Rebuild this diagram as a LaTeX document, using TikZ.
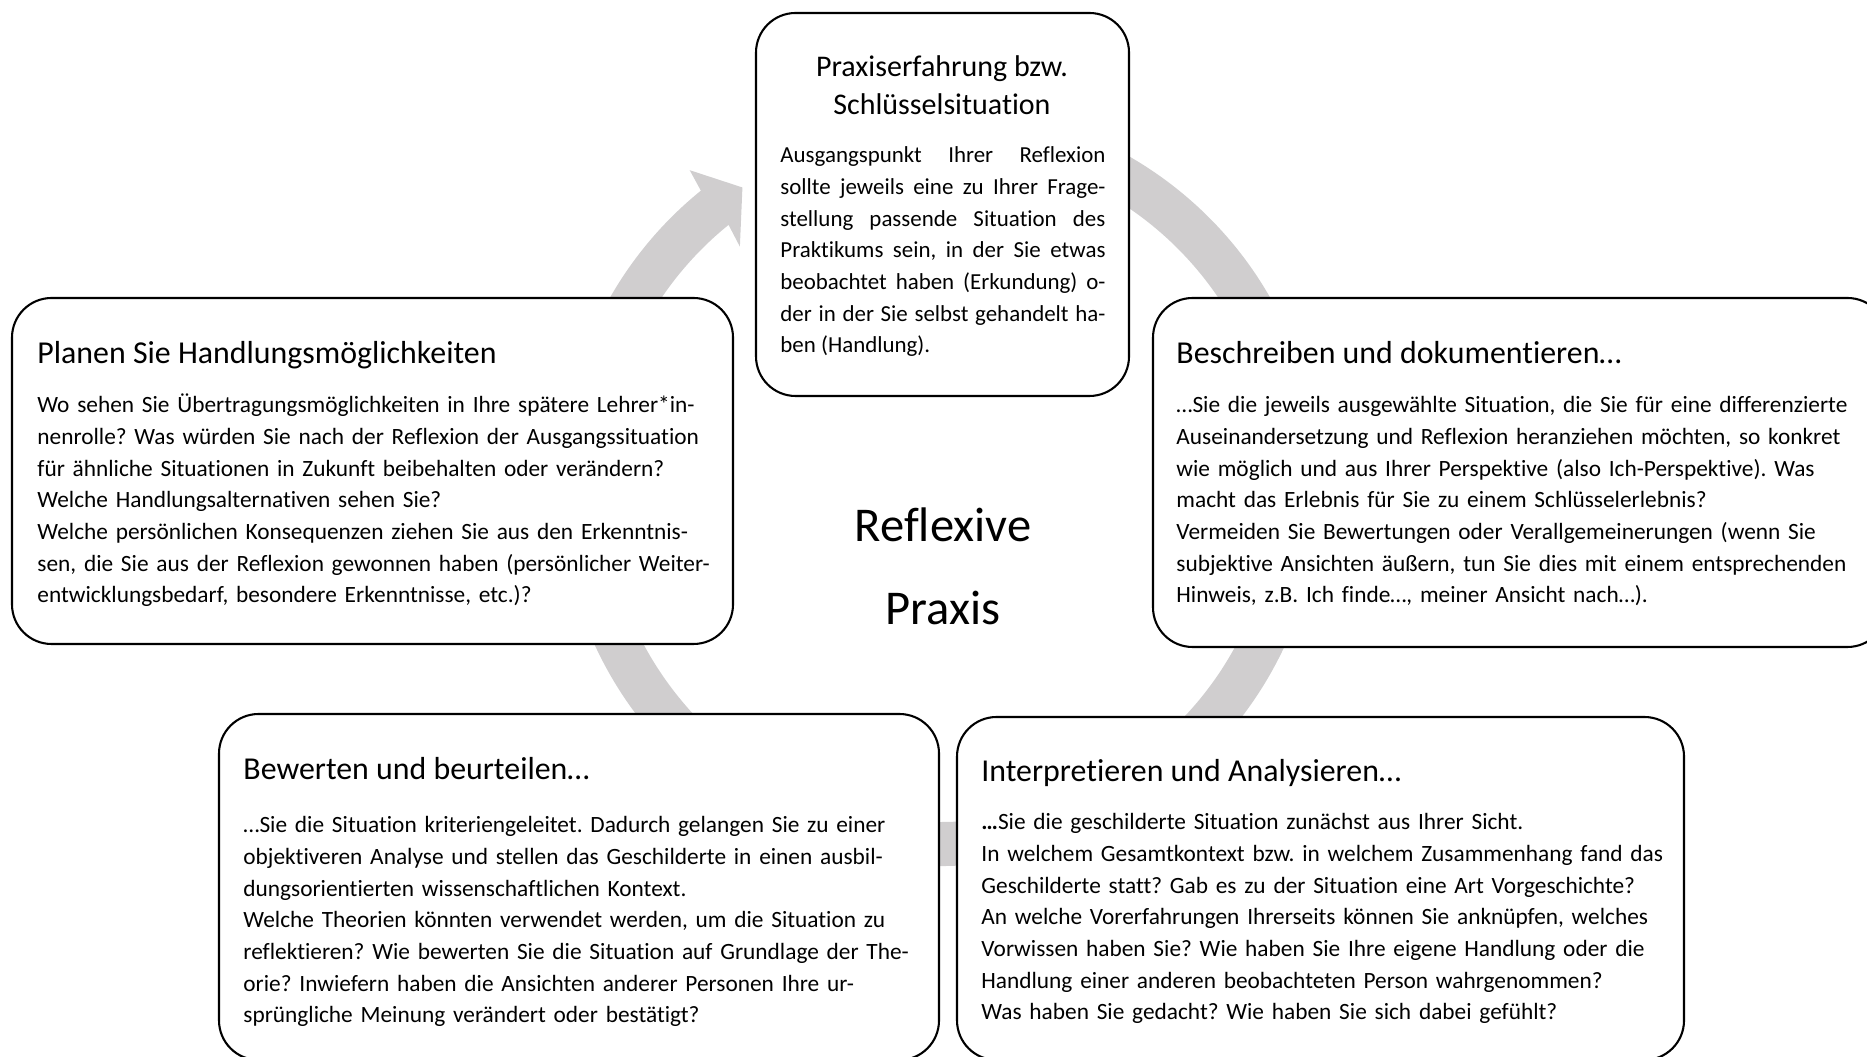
\documentclass[tikz,border=0pt]{standalone}
\usepackage{fontspec}
\setmainfont{Carlito}[Ligatures={TeX,NoCommon}]
\definecolor{cyclegray}{RGB}{208,206,207}
\tikzset{
  card/.style={draw, line width=1pt, rounded corners=19pt, fill=white},
  cardhead/.style={anchor=base west, inner sep=0pt, font=\fontsize{15.3}{18.24}\selectfont},
  cardtext/.style={anchor=base west, inner sep=0pt, text width=345pt, align=left, font=\fontsize{11.2}{15.2}\selectfont},
  bigword/.style={anchor=base, inner sep=0pt, font=\fontsize{23.3}{28}\selectfont}
}
\frenchspacing
\begin{document}
\frenchspacing
\begin{tikzpicture}[x=0.48pt, y=0.48pt]
\useasboundingbox (0,0) rectangle (1867,1056);
\fill[cyclegray, shift={(940,570)}] (100:380) arc[start angle=100, end angle=-231, radius=380]
  -- (128.4:403) -- (123.5:358) -- (129.9:312) -- (-231:336)
  arc[start angle=-231, end angle=100, radius=336] -- cycle;
\draw[card] (756,660) rectangle (1129,1043);
\draw[card] (12,412) rectangle (733,758);
\draw[card] (1153,409) rectangle (1887,758);
\draw[card] (219,-4) rectangle (939,342);
\draw[card] (957,-4) rectangle (1684,339);
\node[bigword] (reflexive) at (943,514) {Reflexive};
\node[bigword] (praxis) at (943,431) {Praxis};
\node[cardhead, anchor=base, align=center, font=\fontsize{14.4}{18.24}\selectfont] (praxhead) at (942,941) {Praxiserfahrung bzw.\\ Schlüsselsituation};
\node[cardtext, text width=156pt, align=justify, font=\fontsize{11}{15.2}\selectfont] (praxtext) at (780,893) {Ausgangspunkt Ihrer Reflexion\linebreak
sollte jeweils eine zu Ihrer Frage-\linebreak stellung passende Situation des\linebreak
Praktikums sein, in der Sie etwas\linebreak beobachtet haben (Erkundung) o-\linebreak
der in der Sie selbst gehandelt ha-\linebreak ben (Handlung).};
\node[cardhead] (planhead) at (37,692) {Planen Sie Handlungsmöglichkeiten};
\node[cardtext] (plantext) at (37,643) {Wo sehen Sie Übertragungsmöglichkeiten in Ihre spätere Lehrer*in-\\
nenrolle? Was würden Sie nach der Reflexion der Ausgangssituation\\
für ähnliche Situationen in Zukunft beibehalten oder verändern?\\
Welche Handlungsalternativen sehen Sie?\\
Welche persönlichen Konsequenzen ziehen Sie aus den Erkenntnis-\\
sen, die Sie aus der Reflexion gewonnen haben (persönlicher Weiter-\\
entwicklungsbedarf, besondere Erkenntnisse, etc.)?};
\node[cardhead] (deschead) at (1176,692) {Beschreiben und dokumentieren…};
\node[cardtext] (desctext) at (1176,643) {…Sie die jeweils ausgewählte Situation, die Sie für eine differenzierte\\
Auseinandersetzung und Reflexion heranziehen möchten, so konkret\\
wie möglich und aus Ihrer Perspektive (also Ich-Perspektive). Was\\
macht das Erlebnis für Sie zu einem Schlüsselerlebnis?\\
Vermeiden Sie Bewertungen oder Verallgemeinerungen (wenn Sie\\
subjektive Ansichten äußern, tun Sie dies mit einem entsprechenden\\
Hinweis, z.B. Ich finde…, meiner Ansicht nach…).};
\node[cardhead] (ratehead) at (243,276) {Bewerten und beurteilen…};
\node[cardtext] (ratetext) at (243,223) {…Sie die Situation kriteriengeleitet. Dadurch gelangen Sie zu einer\\
objektiveren Analyse und stellen das Geschilderte in einen ausbil-\\
dungsorientierten wissenschaftlichen Kontext.\\
Welche Theorien könnten verwendet werden, um die Situation zu\\
reflektieren? Wie bewerten Sie die Situation auf Grundlage der The-\\
orie? Inwiefern haben die Ansichten anderer Personen Ihre ur-\\
sprüngliche Meinung verändert oder bestätigt?};
\node[cardhead] (anahead) at (981,274) {Interpretieren und Analysieren…};
\node[cardtext] (anatext) at (981,226) {\textbf{…}Sie die geschilderte Situation zunächst aus Ihrer Sicht.\\
In welchem Gesamtkontext bzw. in welchem Zusammenhang fand das\\
Geschilderte statt? Gab es zu der Situation eine Art Vorgeschichte?\\
An welche Vorerfahrungen Ihrerseits können Sie anknüpfen, welches\\
Vorwissen haben Sie? Wie haben Sie Ihre eigene Handlung oder die\\
Handlung einer anderen beobachteten Person wahrgenommen?\\
Was haben Sie gedacht? Wie haben Sie sich dabei gefühlt?};
\end{tikzpicture}
\end{document}
